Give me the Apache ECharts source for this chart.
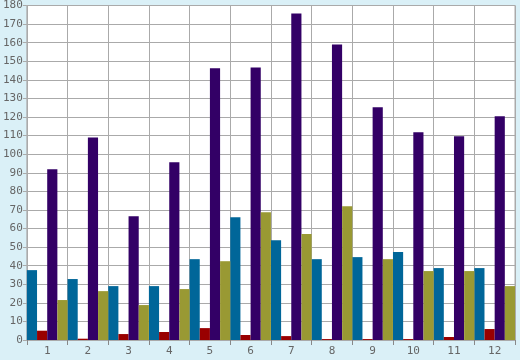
<!DOCTYPE html>
<html><head><meta charset="utf-8">
<script src="https://cdn.jsdelivr.net/npm/echarts@6/dist/echarts.min.js"></script>
<style>html,body{margin:0;padding:0;background:#daf0f7;}#c{width:520px;height:360px;}</style>
</head><body><div id="c"></div>
<script>
const categories = ['1','2','3','4','5','6','7','8','9','10','11','12'];
const tealValues = [37.6, 32.8, 29, 29, 43.5, 66, 53.7, 43.5, 44.6, 47.3, 38.7, 38.7];
const redValues = [5.0, 0.7, 3.2, 4.3, 6.4, 2.7, 2.1, 0.5, 0.5, 0.5, 1.6, 5.9];
const purpleValues = [91.9, 109, 66.6, 95.6, 146.2, 146.7, 175.7, 159, 125.2, 111.8, 109.6, 120.4];
const oliveValues = [21.5, 26.3, 18.8, 27.4, 42.4, 68.8, 57, 72, 43.5, 37.1, 37.1, 29];

const chart = echarts.init(document.getElementById('c'));
const font = {fontFamily: 'DejaVu Sans Mono', fontSize: 11, color: '#666'};
function s(name, data, color){
  return {name, type:'bar', data, barGap:'0%', barCategoryGap:'0%', itemStyle:{color}, animation:false};
}
chart.setOption({
  backgroundColor:'#daf0f7',
  animation:false,
  grid:{left:26, right:5, top:5, bottom:20, show:true, backgroundColor:'#ffffff', borderColor:'#aaaaaa', borderWidth:1, containLabel:false},
  xAxis:{type:'category', data:categories,
    axisLine:{lineStyle:{color:'#aaaaaa'}},
    axisTick:{show:true, length:5, lineStyle:{color:'#888888'}},
    axisLabel:Object.assign({margin:6}, font),
    splitLine:{show:true, lineStyle:{color:'#aaaaaa', width:1}}},
  yAxis:{type:'value', min:0, max:180, interval:10,
    axisLine:{show:true, lineStyle:{color:'#aaaaaa'}},
    axisTick:{show:true, length:4, lineStyle:{color:'#aaaaaa'}},
    axisLabel:Object.assign({margin:4}, font),
    splitLine:{show:true, lineStyle:{color:'#aaaaaa', width:1}}},
  series:[s('a', tealValues, '#006699'), s('b', redValues, '#990000'), s('c', purpleValues, '#330066'), s('d', oliveValues, '#999933')]
});
</script></body></html>
